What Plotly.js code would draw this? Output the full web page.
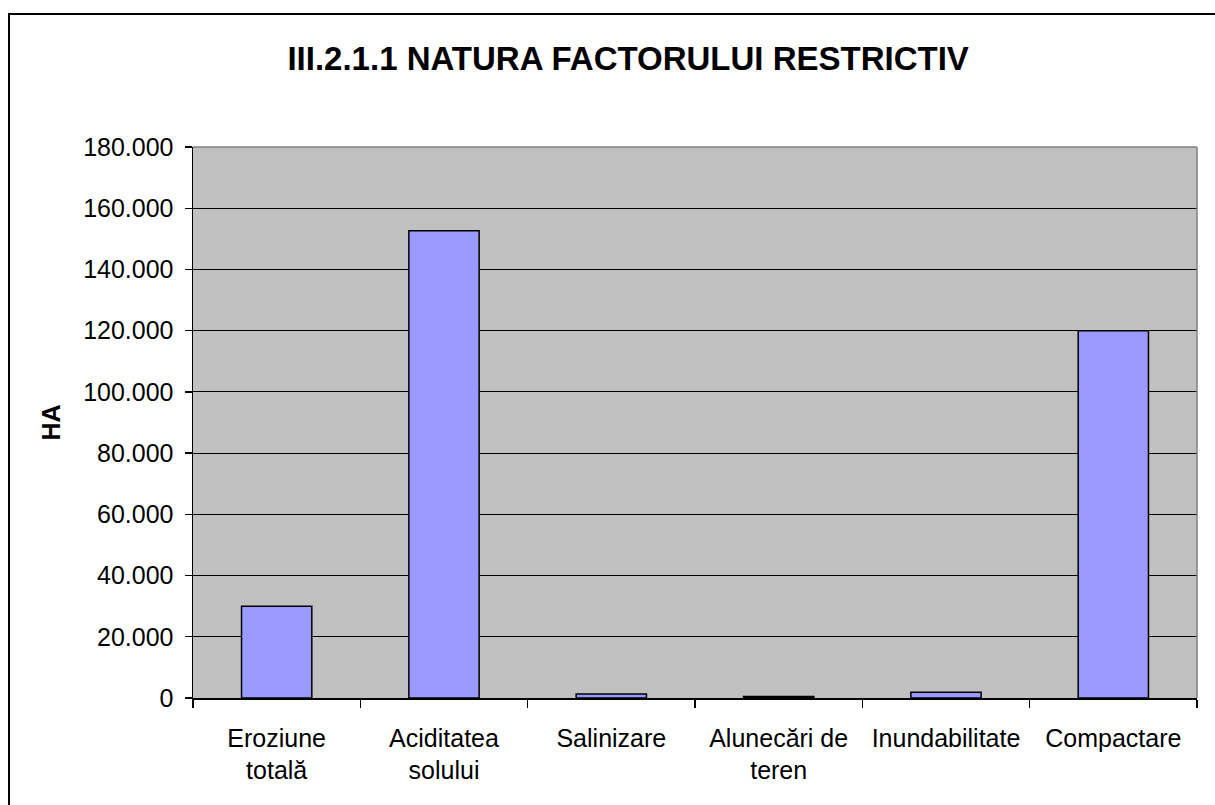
<!DOCTYPE html>
<html>
<head>
<meta charset="utf-8">
<script src="https://cdn.plot.ly/plotly-3.0.1.min.js"></script>
<style>
html,body{margin:0;padding:0;background:#fff;overflow:hidden;}
#wrap{position:relative;width:1215px;height:805px;}
#frame{position:absolute;left:8px;top:13px;width:1300px;height:900px;border:2px solid #000;box-sizing:border-box;pointer-events:none;z-index:5;}
#chart{position:absolute;left:0;top:0;width:1215px;height:805px;}
</style>
</head>
<body>
<div id="wrap">
<div id="chart"></div>
<div id="frame"></div>
</div>
<script>
const categories = ["Eroziune<br>totală", "Aciditatea<br>solului", "Salinizare", "Alunecări de<br>teren", "Inundabilitate", "Compactare"];
const values = [30000, 152600, 1300, 500, 1900, 120000];
const yTickValues = [0, 20000, 40000, 60000, 80000, 100000, 120000, 140000, 160000, 180000];

const font = "Arial, 'Liberation Sans', sans-serif";

const trace = {
  type: "bar",
  x: categories,
  y: values,
  marker: {color: "#9999FF", line: {color: "#000000", width: 1.5}},
  hoverinfo: "none"
};

const layout = {
  width: 1215,
  height: 805,
  margin: {l: 193, r: 18, t: 147, b: 107, pad: 0},
  paper_bgcolor: "#ffffff",
  plot_bgcolor: "#C0C0C0",
  separators: ",.",
  showlegend: false,
  bargap: 0.58,
  font: {family: font, color: "#000", size: 25},
  title: {
    text: "<b>III.2.1.1 NATURA FACTORULUI RESTRICTIV</b>",
    font: {family: font, size: 33, color: "#000"},
    xref: "container", x: 0.517, xanchor: "center",
    yref: "container", y: 0.927, yanchor: "middle"
  },
  xaxis: {
    type: "category",
    tickson: "boundaries",
    ticks: "outside",
    ticklen: 8,
    tickwidth: 1.3,
    tickcolor: "#000",
    showline: true,
    linecolor: "#000",
    linewidth: 1.5,
    showgrid: false,
    tickfont: {family: font, size: 25, color: "#000"},
    ticklabelstandoff: 17,
    fixedrange: true
  },
  yaxis: {
    range: [0, 180000],
    tickvals: yTickValues,
    tickformat: ",d",
    ticks: "outside",
    ticklen: 7,
    tickwidth: 1.3,
    tickcolor: "#000",
    showline: true,
    linecolor: "#000",
    linewidth: 1.5,
    showgrid: true,
    gridcolor: "#000",
    gridwidth: 1,
    zeroline: false,
    tickfont: {family: font, size: 25, color: "#000"},
    ticklabelstandoff: 6,
    title: {text: "<b>HA</b>", font: {family: font, size: 25, color: "#000"}, standoff: 15},
    fixedrange: true
  },
  shapes: [
    {type: "line", xref: "paper", yref: "paper", x0: 0, x1: 1, y0: 1, y1: 1, line: {color: "#808080", width: 1.5}, layer: "above"},
    {type: "line", xref: "paper", yref: "paper", x0: 1, x1: 1, y0: 0, y1: 1, line: {color: "#808080", width: 1.5}, layer: "above"}
  ]
};

Plotly.newPlot("chart", [trace], layout, {displayModeBar: false, staticPlot: true});
</script>
</body>
</html>
